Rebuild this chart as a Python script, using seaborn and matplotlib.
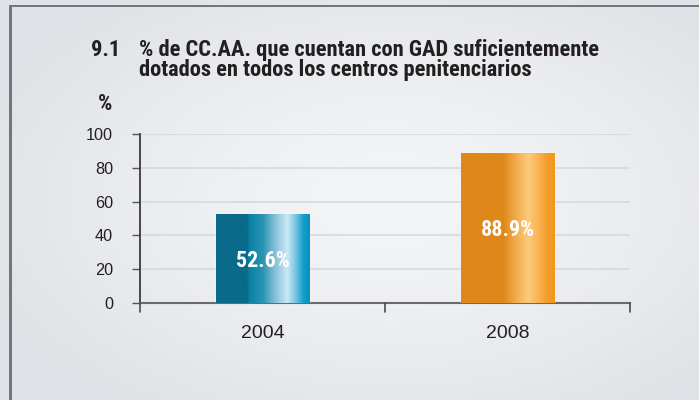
import numpy as np
import pandas as pd
import matplotlib
matplotlib.use("Agg")
import matplotlib.pyplot as plt
from matplotlib.colors import LinearSegmentedColormap
from matplotlib.patches import Rectangle
from matplotlib import font_manager
import seaborn as sns

years = ["2004", "2008"]
values = [52.6, 88.9]
value_labels = ["52.6%", "88.9%"]
y_ticks = [0, 20, 40, 60, 80, 100]
title_number = "9.1"
title_lines = ["% de CC.AA. que cuentan con GAD suficientemente",
               "dotados en todos los centros penitenciarios"]
unit_label = "%"

sns.set_theme(style="white")
plt.rcParams["font.family"] = ["Liberation Sans", "DejaVu Sans"]

# pick a condensed sans for headings and value labels
names = {f.name for f in font_manager.fontManager.ttflist}
narrow = "DejaVu Sans"
for cand in ["Roboto Condensed", "Archivo Narrow", "PT Sans Narrow", "Liberation Sans Narrow",
             "Fira Sans Condensed", "IBM Plex Sans Condensed", "Barlow Semi Condensed",
             "Sofia Sans Condensed", "Saira SemiCondensed"]:
    if cand in names:
        narrow = cand
        break

W, H = 699, 400
fig = plt.figure(figsize=(W / 100, H / 100), dpi=100)
renderer = fig.canvas.get_renderer()


def fit_size(t, width_px):
    """Scale a text so that its drawn width is width_px pixels."""
    w = t.get_window_extent(renderer).width
    t.set_fontsize(t.get_fontsize() * width_px / w)
    return t


# soft radial background across the whole panel
bg = fig.add_axes([0, 0, 1, 1], zorder=-10)
yy, xx = np.mgrid[0:H, 0:W]
r = np.sqrt(((xx - 390) / 430.0) ** 2 + ((yy - 200) / 250.0) ** 2)
r = np.clip(r, 0, 1) ** 1.3
c0 = np.array([0.957, 0.961, 0.969])
c1 = np.array([0.878, 0.890, 0.902])
img = c0[None, None, :] * (1 - r[..., None]) + c1[None, None, :] * r[..., None]
bg.imshow(img, extent=[0, W, H, 0], aspect="auto")
bg.set_xlim(0, W)
bg.set_ylim(H, 0)
bg.axis("off")
# panel frame: top and left edges
bg.add_patch(Rectangle((9, 4.5), W, 2.8, color="#6e787e", lw=0))
bg.add_patch(Rectangle((9, 4.5), 2.8, H, color="#6e787e", lw=0))

# main axes
ax_l, ax_r = 140 / W, 630 / W
ax_b, ax_t = 1 - 303 / H, 1 - 134 / H
ax = fig.add_axes([ax_l, ax_b, ax_r - ax_l, ax_t - ax_b])
ax.patch.set_alpha(0)

df = pd.DataFrame({"year": years, "value": values})
sns.barplot(data=df, x="year", y="value", ax=ax, width=0.38,
            color="#0a6a8a", saturation=1, zorder=3)

ax.set_ylim(0, 100)
ax.set_xlim(-0.5, 1.5)
ax.set_yticks(y_ticks)
ax.set_yticklabels([str(t) for t in y_ticks], fontsize=11.7, color="#231f20")
ax.set_xticks([0, 1])
ax.set_xticklabels(years, fontsize=14, color="#231f20")
ax.tick_params(axis="x", length=0, pad=16)
ax.tick_params(axis="y", length=5.8, width=1, color="#555555", pad=13.5, left=True)
for t in y_ticks[1:]:
    ax.axhline(t, color="#d6d9dd", lw=1.2, zorder=1)
ax.set_xlabel("")
ax.set_ylabel("")
for s in ["top", "right"]:
    ax.spines[s].set_visible(False)
ax.spines["left"].set_color("#3a3a3a")
ax.spines["left"].set_linewidth(1.3)
ax.spines["bottom"].set_color("#6a6a6a")
ax.spines["bottom"].set_linewidth(1.5)
# downward separators on the category axis
for xb in [-0.5, 0.5, 1.5]:
    ax.plot([xb, xb], [0, -5.5], color="#4a4a4a", lw=1.2, clip_on=False, zorder=4)

gradients = [
    LinearSegmentedColormap.from_list("teal", [
        (0.0, "#0a6a8a"), (0.33, "#0a6a8a"), (0.36, "#0a84a6"), (0.50, "#2a93b3"),
        (0.62, "#7fbdd6"), (0.76, "#cde9f4"), (0.86, "#6cc0e0"), (0.93, "#12a0cc"),
        (1.0, "#0a8fbc")]),
    LinearSegmentedColormap.from_list("amber", [
        (0.0, "#df8719"), (0.45, "#df8719"), (0.50, "#e6962e"), (0.62, "#f6b45a"),
        (0.72, "#fdca7c"), (0.84, "#f9b04d"), (0.92, "#f49c26"), (1.0, "#f2961e")]),
]
grad = np.linspace(0, 1, 256)[None, :]
for patch, cmap, lab, v in zip(ax.patches, gradients, value_labels, values):
    x0, y0 = patch.get_x(), patch.get_y()
    w, h = patch.get_width(), patch.get_height()
    im = ax.imshow(grad, cmap=cmap, extent=[x0, x0 + w, y0, y0 + h],
                   aspect="auto", zorder=3.5, interpolation="bilinear")
    im.set_clip_path(patch)
    t = ax.text(x0 + w / 2, v / 2, lab, ha="center", va="center_baseline",
                color="white", fontsize=14, fontweight="bold", family=narrow, zorder=5)
    fit_size(t, 54)
ax.set_xlim(-0.5, 1.5)
ax.set_ylim(0, 100)
ax.set_aspect("auto")

# headings, all at the size that fits the first title line
head = dict(fontsize=14, fontweight="bold", family=narrow, color="#231f20", va="baseline")
t1 = fit_size(fig.text(139 / W, 1 - 56 / H, title_lines[0], ha="left", **head), 462)
size = t1.get_fontsize()
head["fontsize"] = size
fig.text(139 / W, 1 - 76 / H, title_lines[1], ha="left", **head)
fig.text(120 / W, 1 - 56 / H, title_number, ha="right", **head)
fig.text(105 / W, 1 - 110 / H, unit_label, ha="center", **head)

fig.savefig("out.png", dpi=100)
